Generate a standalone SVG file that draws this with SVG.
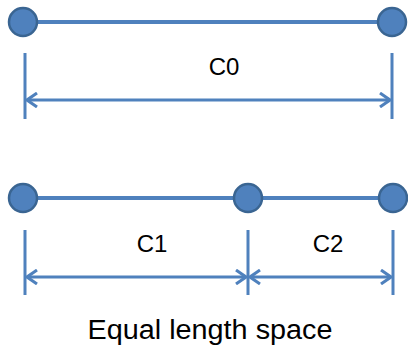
<svg xmlns="http://www.w3.org/2000/svg" width="408" height="352" viewBox="0 0 408 352">
<defs>
<style>
.seg{stroke:#4F81BD;stroke-width:4;fill:none}
.tick{stroke:#4F81BD;stroke-width:3;fill:none}
.dim{stroke:#4F81BD;stroke-width:3;fill:none;marker-start:url(#open);marker-end:url(#open)}
.pt{fill:#4F81BD;stroke:#3A6592;stroke-width:2.5}
.lbl{font-family:"Liberation Sans",Arial,sans-serif;font-size:24px;fill:#000;text-anchor:middle}
.cap{font-family:"Liberation Sans",Arial,sans-serif;font-size:27px;fill:#000;text-anchor:middle}
</style>
<marker id="open" viewBox="0 0 12 16" refX="11" refY="8" markerWidth="12" markerHeight="16" markerUnits="userSpaceOnUse" orient="auto-start-reverse">
<path d="M1,1 L11,8 L1,15" fill="none" stroke="#4F81BD" stroke-width="3"/>
</marker>
</defs>
<g id="connectors">
<line class="seg" x1="23" y1="22" x2="392" y2="22"/>
<line class="seg" x1="23" y1="198" x2="393" y2="198"/>
<line class="tick" x1="25" y1="53" x2="25" y2="119"/>
<line class="tick" x1="392" y1="53" x2="392" y2="119"/>
<line class="dim" x1="27" y1="100" x2="390" y2="100"/>
<line class="tick" x1="25" y1="230" x2="25" y2="295"/>
<line class="tick" x1="248" y1="230" x2="248" y2="295"/>
<line class="tick" x1="393" y1="230" x2="393" y2="295"/>
<line class="dim" x1="27" y1="277" x2="246" y2="277"/>
<line class="dim" x1="250" y1="277" x2="391" y2="277"/>
</g>
<g id="n-top-left"><circle class="pt" cx="23" cy="22" r="14"/></g>
<g id="n-top-right"><circle class="pt" cx="392" cy="22" r="14"/></g>
<g id="n-bot-left"><circle class="pt" cx="23" cy="198" r="14"/></g>
<g id="n-bot-mid"><circle class="pt" cx="248" cy="198" r="14"/></g>
<g id="n-bot-right"><circle class="pt" cx="393" cy="198" r="14"/></g>
<g id="labels">
<text class="lbl" x="224" y="75">C0</text>
<text class="lbl" x="152" y="252">C1</text>
<text class="lbl" x="328" y="252">C2</text>
<text class="cap" x="210" y="339" textLength="245" lengthAdjust="spacingAndGlyphs">Equal length space</text>
</g>
</svg>
